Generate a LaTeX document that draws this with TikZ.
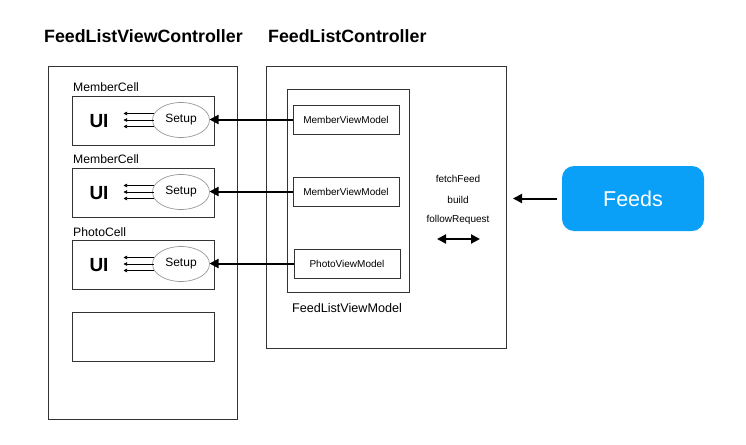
\documentclass[tikz,border=0pt]{standalone}
\usepackage{fontspec}
\setmainfont{Liberation Sans}
\usetikzlibrary{arrows.meta,shapes.geometric}
\definecolor{feedblue}{HTML}{0AA0F7}
\definecolor{boxline}{HTML}{333333}
\definecolor{ellline}{HTML}{999999}
\tikzset{
  frame/.style={draw=boxline, line width=0.9pt, anchor=north west, inner sep=0pt, outer sep=0pt},
  vmbox/.style={draw=boxline, line width=0.9pt, minimum width=106pt, minimum height=29pt, inner sep=0pt, outer sep=0pt, font=\fontsize{10}{12}\selectfont},
  cellbox/.style={draw=boxline, line width=0.9pt, minimum width=142pt, minimum height=49pt, anchor=north west, inner sep=0pt, outer sep=0pt},
  setupell/.style={ellipse, draw=ellline, line width=0.7pt, minimum width=57pt, minimum height=35pt, inner sep=0pt, outer sep=0pt, font=\fontsize{12}{14}\selectfont},
  uilabel/.style={font=\bfseries\fontsize{19}{22}\selectfont, inner sep=0pt},
  celllabel/.style={anchor=base west, inner sep=0pt, font=\fontsize{12.2}{14}\selectfont},
  titlelabel/.style={anchor=base west, inner sep=0pt, font=\bfseries\fontsize{17.8}{20}\selectfont},
  smalltext/.style={inner sep=0pt, font=\fontsize{10}{12}\selectfont},
  bigarrow/.style={line width=2pt, -{Triangle[length=9pt,width=9pt]}},
  smallarrow/.style={line width=0.7pt, -{Triangle[length=3.5pt,width=3.5pt]}},
}
\begin{document}
\begin{tikzpicture}[x=1pt,y=-1pt]
\useasboundingbox (0,0) rectangle (746,444);
% titles
\node[titlelabel] (t1) at (44,43) {FeedListViewController};
\node[titlelabel] (t2) at (268,43) {FeedListController};
% outer frames
\node[frame, minimum width=189pt, minimum height=353pt] (vc) at (48,66) {};
\node[frame, minimum width=240pt, minimum height=282pt] (ctl) at (266,66) {};
\node[frame, minimum width=122pt, minimum height=203pt] (vm) at (287,89) {};
\node[inner sep=0pt, font=\fontsize{12.6}{14}\selectfont] (vmlabel) at (347,308) {FeedListViewModel};
% view models
\node[vmbox] (mvm1) at (346,119.5) {MemberViewModel};
\node[vmbox] (mvm2) at (346,191.5) {MemberViewModel};
\node[vmbox] (pvm) at (347,263.5) {PhotoViewModel};
% cells
\node[cellbox] (cell1) at (72,96) {};
\node[cellbox] (cell2) at (72,168) {};
\node[cellbox] (cell3) at (72,240) {};
\node[cellbox] (cell4) at (72,312) {};
\node[celllabel] (l1) at (73,91) {MemberCell};
\node[celllabel] (l2) at (73,163) {MemberCell};
\node[celllabel] (l3) at (73,236) {PhotoCell};
\node[uilabel] (ui1) at (99,121) {UI};
\node[uilabel] (ui2) at (99,193) {UI};
\node[uilabel] (ui3) at (99,265) {UI};
\node[setupell] (s1) at (181,120) {Setup};
\node[setupell] (s2) at (181,192) {Setup};
\node[setupell] (s3) at (181,264) {Setup};
% small arrows inside cells
\foreach \s in {s1,s2,s3}{
  \foreach \dy in {-6.5,0,6.5}{
    \coordinate (\s a) at ([yshift=\dy]\s.west);
    \coordinate (\s b) at ([xshift=-29pt,yshift=\dy]\s.west);
    \draw[smallarrow] ([xshift=1.5pt]\s a) -- (\s b);
  }
}
% big arrows
\draw[bigarrow] (mvm1.west) -- (mvm1.west -| s1.east);
\draw[bigarrow] (mvm2.west) -- (mvm2.west -| s2.east);
\draw[bigarrow] (pvm.west) -- (pvm.west -| s3.east);
% controller texts
\node[smalltext] (f1) at (458,179) {fetchFeed};
\node[smalltext] (f2) at (458,200) {build};
\node[smalltext] (f3) at (458,220) {followRequest};
\coordinate (da) at (437,239);
\coordinate (db) at (480,239);
\draw[line width=2pt, {Triangle[length=9pt,width=9pt]}-{Triangle[length=9pt,width=9pt]}] (da) -- (db);
% Feeds
\node[fill=feedblue, rounded corners=12pt, minimum width=142pt, minimum height=65pt, anchor=north west, inner sep=0pt, outer sep=0pt, text=white, font=\fontsize{21.5}{24}\selectfont] (feeds) at (562,166) {Feeds};
\coordinate (fin) at (513,198.5);
\draw[bigarrow] ([xshift=-5pt]feeds.west) -- (fin);
\end{tikzpicture}
\end{document}
